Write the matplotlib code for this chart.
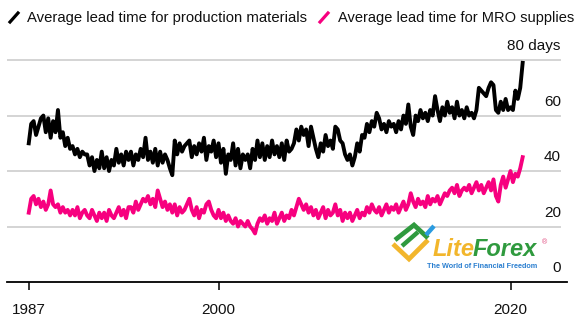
import numpy as np
import matplotlib
matplotlib.use("Agg")
import matplotlib.pyplot as plt
from matplotlib.lines import Line2D

plt.rcParams['font.family'] = ['Liberation Sans', 'DejaVu Sans']

# bimonthly readings, 1987 .. late 2020 (days)
start_year = 1987
per_year = 6
prod_lead = [
    50, 57, 58, 53, 56, 59,   # 1987
    60, 54, 59, 52, 58, 54,   # 1988
    62, 52, 54, 49, 52, 48,   # 1989
    49, 46, 48, 45, 47, 46,   # 1990
    46, 42, 45, 40, 44, 41,   # 1991
    47, 41, 45, 40, 44, 42,   # 1992
    48, 43, 46, 42, 47, 44,   # 1993
    47, 42, 46, 44, 48, 45,   # 1994
    52, 44, 47, 43, 48, 42,   # 1995
    47, 43, 46, 44, 41, 38.5, # 1996
    51, 46, 50, 47, 49, 50,   # 1997
    51, 45, 49, 46, 50, 47,   # 1998
    52, 44, 49, 47, 51, 45,   # 1999
    50, 43, 48, 39, 46, 44,   # 2000
    50, 42, 48, 41, 46, 44,   # 2001
    46, 41, 48, 44, 51, 45,   # 2002
    50, 44, 49, 45, 51, 46,   # 2003
    49, 45, 50, 44, 51, 47,   # 2004
    48, 50, 55, 51, 56, 53,   # 2005
    55, 49, 56, 52, 48, 45,   # 2006
    50, 47, 53, 49, 51, 48,   # 2007
    56, 55, 51, 50, 46, 44,   # 2008
    46, 42, 45, 50, 47, 53,   # 2009
    52, 57, 54, 58, 56, 61,   # 2010
    59, 55, 57, 54, 58, 56,   # 2011
    57, 54, 58, 55, 60, 57,   # 2012
    64, 56, 53, 60, 58, 62,   # 2013
    59, 61, 58, 62, 60, 67,   # 2014
    62, 58, 63, 60, 65, 61,   # 2015
    63, 59, 65, 60, 62, 59,   # 2016
    63, 60, 61, 59, 62, 70,   # 2017
    69, 68, 67, 70, 72, 71,   # 2018
    62, 61, 65, 62, 66, 62,   # 2019
    63, 62, 69, 66, 70, 79,   # 2020
]
mro_lead = [
    25, 30, 31, 28, 30, 27,   # 1987
    29, 26, 28, 33, 28, 27,   # 1988
    28, 25, 27, 25, 26, 24,   # 1989
    26, 24, 27, 23, 25, 26,   # 1990
    24, 23, 26, 24, 22, 25,   # 1991
    23, 25, 22, 26, 24, 23,   # 1992
    25, 27, 24, 26, 23, 27,   # 1993
    27, 25, 29, 26, 28, 30,   # 1994
    29, 31, 28, 30, 27, 33,   # 1995
    30, 27, 29, 26, 28, 25,   # 1996
    28, 24, 27, 25, 26, 28,   # 1997
    30, 26, 24, 27, 23, 26,   # 1998
    25, 28, 29, 26, 24, 23,   # 1999
    26, 23, 25, 22, 24, 22,   # 2000
    21, 23, 20, 22, 21, 20,   # 2001
    22, 20, 19, 17.5, 21, 23, # 2002
    22, 24, 21, 23, 22, 25,   # 2003
    21, 23, 25, 22, 24, 23,   # 2004
    26, 24, 27, 30, 28, 26,   # 2005
    28, 25, 27, 24, 26, 23,   # 2006
    25, 27, 23, 26, 24, 25,   # 2007
    28, 24, 26, 22, 25, 23,   # 2008
    25, 22, 24, 26, 23, 25,   # 2009
    24, 27, 25, 28, 26, 25,   # 2010
    27, 24, 26, 28, 25, 27,   # 2011
    26, 28, 25, 27, 29, 26,   # 2012
    28, 32, 29, 27, 30, 28,   # 2013
    29, 27, 31, 28, 30, 29,   # 2014
    31, 28, 30, 32, 31, 33,   # 2015
    34, 32, 35, 31, 33, 34,   # 2016
    33, 35, 32, 34, 36, 33,   # 2017
    35, 32, 34, 36, 33, 37,   # 2018
    31, 29, 35, 38, 34, 37,   # 2019
    40, 36, 39, 38, 41, 45,   # 2020
]
x_ticks = [1987, 2000, 2020]
y_ticks = [0, 20, 40, 60, 80]
y_labels = ['0', '20', '40', '60', '80 days']
legend_labels = ['Average lead time for production materials',
                 'Average lead time for MRO supplies']

BLACK = '#000000'
PINK = '#f7007f'
GRID = '#d4d4d4'

t = start_year + np.arange(len(prod_lead)) / per_year

fig = plt.figure(figsize=(5.77, 3.28), dpi=100)
ax = fig.add_axes([7 / 577, 46 / 328, 560 / 577, 233 / 328])
ax.set_xlim(1985.51, 2023.87)
ax.set_ylim(0, 84)

# grid lines stop a bit short of the right edge
for v in y_ticks[1:]:
    ax.plot([1985.51, 2023.39], [v, v], color=GRID, lw=1.4, zorder=1)

ax.plot(t, mro_lead, color=PINK, lw=2.8, zorder=3, solid_joinstyle='round')
ax.plot(t, prod_lead, color=BLACK, lw=2.8, zorder=4, solid_joinstyle='round')

for v, lab in zip(y_ticks, y_labels):
    ax.annotate(lab, xy=(2023.45, v), xytext=(0, 5), textcoords='offset points',
                ha='right', va='bottom', fontsize=11, color='#111111')

for s in ['top', 'right', 'left']:
    ax.spines[s].set_visible(False)
ax.spines['bottom'].set_linewidth(1.3)
ax.set_yticks([])
ax.set_xticks(x_ticks)
ax.tick_params(axis='x', length=6, width=1.1, pad=9, labelsize=11, labelcolor='#111111')

# legend across the top
def slash(x0, color):
    fig.add_artist(Line2D([x0 / 577, (x0 + 8) / 577], [1 - 22 / 328, 1 - 13 / 328],
                          color=color, lw=2.3, transform=fig.transFigure))

slash(10, BLACK)
fig.text(27 / 577, 1 - 18 / 328, legend_labels[0], fontsize=10.7, va='center', color='#111111')
slash(320, PINK)
fig.text(338 / 577, 1 - 18 / 328, legend_labels[1], fontsize=10.5, va='center', color='#111111')

# LiteForex watermark
def fpx(x, y):
    return x / 577, 1 - y / 328

def stroke(pts, color, lw):
    xs, ys = zip(*[fpx(*p) for p in pts])
    fig.add_artist(Line2D(xs, ys, color=color, lw=lw, transform=fig.transFigure,
                          solid_capstyle='butt', solid_joinstyle='miter', zorder=6))

stroke([(393, 244), (409, 259), (428, 240)], '#f2b62c', 3.4)
stroke([(395, 240), (414, 225), (428, 238)], '#2f9a3e', 3.4)
stroke([(402, 246), (418, 232)], '#2f9a3e', 3.2)
stroke([(426, 235), (434, 226)], '#2a9be0', 3.2)
fig.text(*fpx(433, 249), 'Lite', fontsize=17, fontweight='bold', style='italic',
         color='#f2b62c', va='center', ha='left', zorder=6)
fig.text(*fpx(473, 249), 'Forex', fontsize=17, fontweight='bold', style='italic',
         color='#2f9a3e', va='center', ha='left', zorder=6)
fig.text(*fpx(544, 243), '®', fontsize=5, color='#e0457b', va='center', ha='center', zorder=6)
fig.text(*fpx(482, 267), 'The World of Financial Freedom', fontsize=5.2, fontweight='bold',
         color='#2a7fd0', va='center', ha='center', zorder=6)

fig.savefig('out.png', dpi=100)
